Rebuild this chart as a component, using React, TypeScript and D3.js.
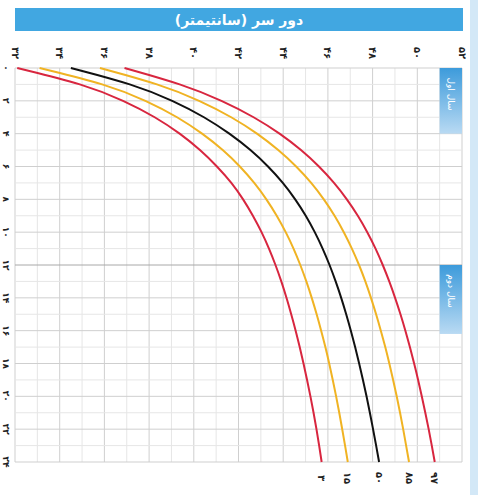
import React, { useRef, useEffect } from 'react';
import * as d3 from 'd3';

// age in months (vertical axis, top = birth)
const months = d3.range(0, 25);
// head circumference (cm) per month
const p3 = [32.1, 35.1, 36.9, 38.3, 39.4, 40.3, 41.05, 41.7, 42.22, 42.65, 43.04, 43.37, 43.66, 43.92, 44.15, 44.36, 44.56, 44.74, 44.91, 45.07, 45.22, 45.36, 45.49, 45.61, 45.72];
const p15 = [33.1, 36.1, 37.9, 39.3, 40.4, 41.32, 42.08, 42.72, 43.26, 43.72, 44.12, 44.47, 44.77, 45.04, 45.28, 45.5, 45.7, 45.89, 46.06, 46.22, 46.37, 46.51, 46.64, 46.77, 46.89];
const p50 = [34.5, 37.3, 39.1, 40.5, 41.62, 42.56, 43.34, 44.0, 44.55, 45.02, 45.42, 45.77, 46.08, 46.35, 46.6, 46.82, 47.03, 47.22, 47.4, 47.57, 47.73, 47.88, 48.02, 48.16, 48.29];
const p85 = [35.8, 38.5, 40.3, 41.72, 42.86, 43.8, 44.6, 45.27, 45.83, 46.31, 46.72, 47.08, 47.4, 47.68, 47.93, 48.16, 48.37, 48.57, 48.75, 48.92, 49.08, 49.23, 49.37, 49.5, 49.63];
const p97 = [36.9, 39.5, 41.3, 42.72, 43.87, 44.82, 45.62, 46.29, 46.86, 47.35, 47.77, 48.14, 48.46, 48.75, 49.01, 49.25, 49.47, 49.67, 49.86, 50.04, 50.2, 50.36, 50.51, 50.65, 50.78];

const seriesLabels = ['۳', '۱۵', '۵۰', '۸۵', '۹۷'];
const seriesColors = ['#d8263f', '#f0b323', '#111111', '#f0b323', '#d8263f'];
const cmTicks = d3.range(32, 53, 2);
const monthTicks = d3.range(0, 25, 2);
const yearLabels = ['سال اول', 'سال دوم'];
const title = 'دور سر (سانتیمتر)';

const fa = (n: number) => String(n).replace(/\d/g, (d) => '۰۱۲۳۴۵۶۷۸۹'[+d]);

const HeadChart: React.FC = () => {
  const ref = useRef<SVGSVGElement | null>(null);

  useEffect(() => {
    const svg = d3.select(ref.current);
    svg.selectAll('*').remove();
    const width = 478;
    const height = 495;
    svg.attr('width', width).attr('height', height);

    const x = d3.scaleLinear().domain([32, 52]).range([15, 462]);
    const y = d3.scaleLinear().domain([0, 24]).range([68, 462]);

    svg.append('rect').attr('x', 0).attr('y', 0).attr('width', width).attr('height', height).attr('fill', '#fff');
    svg.append('rect').attr('x', 470).attr('y', 0).attr('width', 8).attr('height', height).attr('fill', '#d3e8f7');

    // title bar
    svg.append('rect').attr('x', 15).attr('y', 8).attr('width', 448).attr('height', 23).attr('fill', '#41a7e1');
    svg.append('text').attr('x', 239).attr('y', 25).attr('text-anchor', 'middle')
      .attr('font-family', 'DejaVu Sans').attr('font-weight', 'bold').attr('font-size', 14)
      .attr('fill', '#fff').attr('direction', 'rtl').text(title);

    // grid
    const g = svg.append('g');
    d3.range(32, 53, 1).forEach((c) => {
      g.append('line').attr('x1', x(c)).attr('x2', x(c)).attr('y1', y(0)).attr('y2', y(24))
        .attr('stroke', c % 2 === 0 ? '#cfcfcf' : '#e6e6e6').attr('stroke-width', 1);
    });
    months.forEach((m) => {
      g.append('line').attr('x1', x(32)).attr('x2', x(52)).attr('y1', y(m)).attr('y2', y(m))
        .attr('stroke', m === 12 ? '#a8a8a8' : m % 2 === 0 ? '#cfcfcf' : '#e6e6e6').attr('stroke-width', 1);
    });

    // year boxes in right column
    const defs = svg.append('defs');
    const grad = defs.append('linearGradient').attr('id', 'yr').attr('x1', 0).attr('y1', 0).attr('x2', 0).attr('y2', 1);
    grad.append('stop').attr('offset', '0%').attr('stop-color', '#3d9bdb');
    grad.append('stop').attr('offset', '100%').attr('stop-color', '#b9daf3');
    [[0, 4], [12, 16.2]].forEach(([a, b], i) => {
      svg.append('rect').attr('x', x(51)).attr('y', y(a)).attr('width', x(52) - x(51)).attr('height', y(b) - y(a))
        .attr('fill', 'url(#yr)');
      const cx = (x(51) + x(52)) / 2;
      const cy = y(a) + 26;
      svg.append('text').attr('transform', `translate(${cx},${cy}) rotate(90)`)
        .attr('text-anchor', 'middle').attr('dy', '0.35em')
        .attr('font-family', 'DejaVu Sans').attr('font-size', 9).attr('fill', '#fff')
        .attr('direction', 'rtl').text(yearLabels[i]);
    });

    // cm labels on top
    cmTicks.forEach((c) => {
      svg.append('text').attr('transform', `translate(${x(c)},${53}) rotate(90)`)
        .attr('text-anchor', 'middle').attr('dy', '0.35em')
        .attr('font-family', 'DejaVu Sans').attr('font-weight', 'bold').attr('font-size', 10).attr('fill', '#222')
        .text(fa(c));
    });
    // month labels on left
    monthTicks.forEach((m) => {
      svg.append('text').attr('transform', `translate(${6},${y(m)}) rotate(90)`)
        .attr('text-anchor', 'middle').attr('dy', '0.35em')
        .attr('font-family', 'DejaVu Sans').attr('font-weight', 'bold').attr('font-size', 9).attr('fill', '#222')
        .text(fa(m));
    });

    const line = d3.line<number>()
      .x((d) => x(d))
      .y((_, i) => y(months[i]))
      .curve(d3.curveBasis);

    [p3, p15, p50, p85, p97].forEach((s, i) => {
      svg.append('path').datum(s).attr('fill', 'none').attr('stroke', seriesColors[i])
        .attr('stroke-width', 2).attr('d', line as any);
      svg.append('text').attr('transform', `translate(${x(s[s.length - 1])},${478}) rotate(90)`)
        .attr('text-anchor', 'middle').attr('dy', '0.35em')
        .attr('font-family', 'DejaVu Sans').attr('font-weight', 'bold').attr('font-size', 10).attr('fill', '#222')
        .text(seriesLabels[i]);
    });
  }, []);

  return <svg ref={ref} style={{ position: 'absolute', left: 0, top: 0, display: 'block' }} />;
};

export default function App() {
  return <HeadChart />;
}
